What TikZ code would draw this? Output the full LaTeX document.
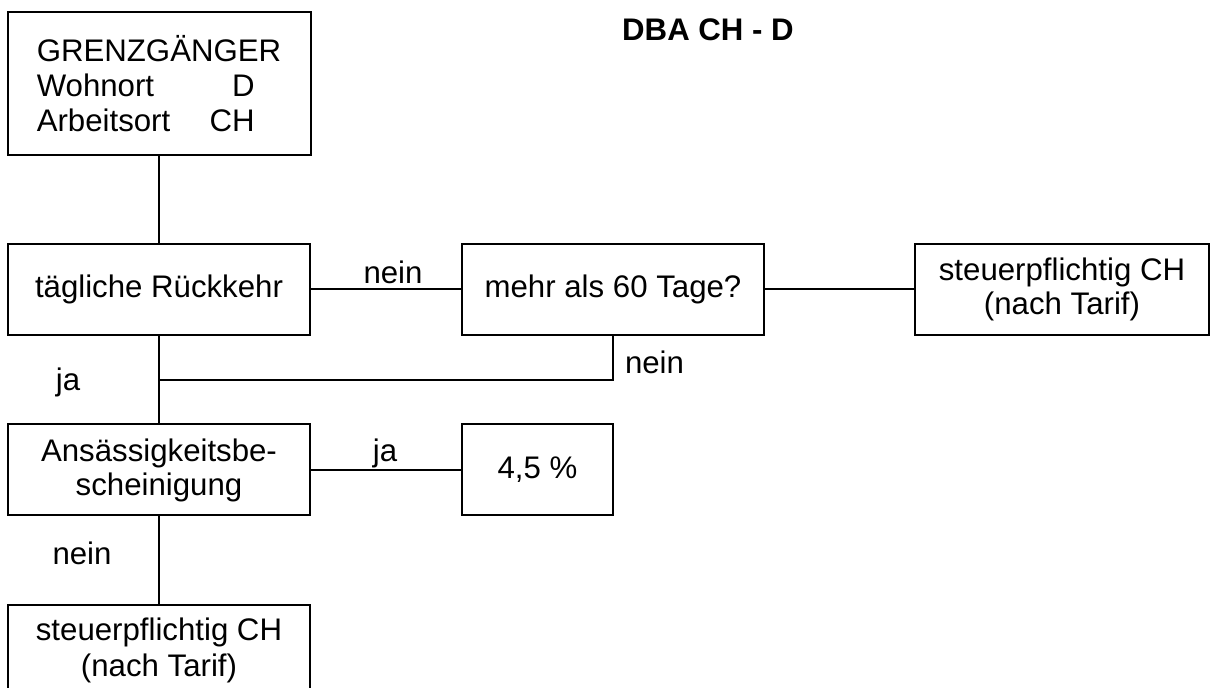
\documentclass[tikz,border=0pt]{standalone}
\usepackage{fontspec}
\setmainfont{Liberation Sans}
\usepackage{tikz}

\begin{document}
\begin{tikzpicture}[x=0.5pt,y=-0.5pt,line width=1pt]
        \tikzstyle{every node} = [rectangle,font=\fontsize{15.6}{17}\selectfont,inner sep=0pt]
        \tikzstyle{box} = [draw,line width=1pt,align=center,minimum width=151pt,minimum height=45.5pt]
        \clip (0,0) rectangle (1212,688);
        \node (t) at (708,30) {\bfseries DBA CH - D};
        \node[box,align=left,minimum width=151.5pt,minimum height=71.5pt,font=\fontsize{15.6}{17.5}\selectfont] (0) at (159,83.5)
            {GRENZGÄNGER\\\makebox[109pt][l]{Wohnort\hfill D}\\\makebox[109pt][l]{Arbeitsort\hfill CH}};
        \node[box] (1) at (159,289.5) {tägliche Rückkehr};
        \node[box] (2) at (613,289.5) {mehr als 60 Tage?};
        \node[box,minimum width=147pt] (3) at (1062,289.5) {steuerpflichtig CH\\(nach Tarif)};
        \node[box] (4) at (159,470) {Ansässigkeitsbe-\\scheinigung};
        \node[box,minimum width=75.5pt] (5) at (537.5,470) {4,5 \%};
        \node[box,font=\fontsize{15.6}{18}\selectfont] (6) at (159,650.5) {steuerpflichtig CH\\(nach Tarif)};
        \coordinate (j) at (159,380);

        \node (n1) at (393,272) {nein};
        \node[anchor=west] (n2) at (624,362) {nein};
        \node (j1) at (68,382) {ja};
        \node (j2) at (385,453) {ja};
        \node (n3) at (82,553) {nein};

        \foreach \from/\to in {0/1, 1/2, 2/3, 1/4, 4/5, 4/6}
            \draw (\from) -- (\to);
        \draw (2.south) |- (j);
      \end{tikzpicture}
\end{document}
